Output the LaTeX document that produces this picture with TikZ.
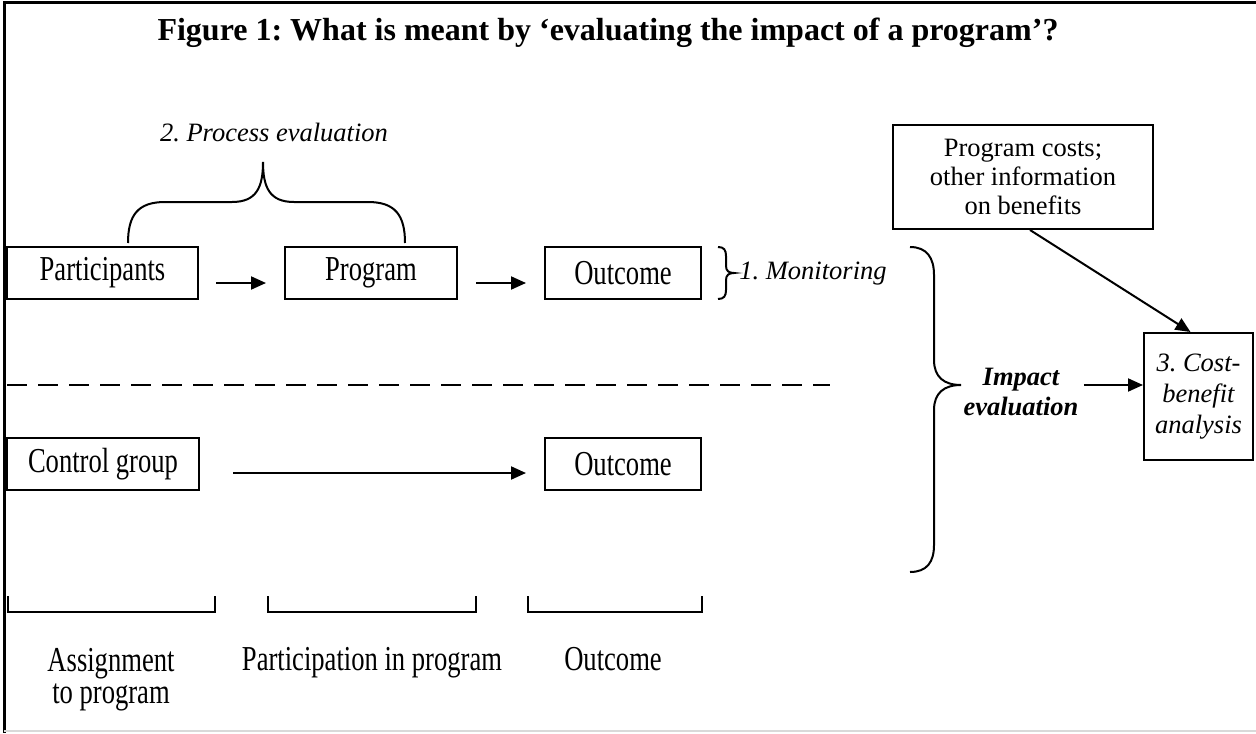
\documentclass[tikz,border=0pt]{standalone}
\usepackage{fontspec}
\setmainfont{Liberation Serif}
\newfontfamily\tallfont[FakeStretch=0.76]{Liberation Serif}
\usetikzlibrary{positioning, arrows.meta}
\frenchspacing

\begin{document}
\begin{tikzpicture}[
    x=0.5pt, y=-0.5pt,
    font=\fontsize{13.25}{15}\selectfont,
    box/.style={draw, line width=1pt, inner sep=0pt, align=center},
    tallbox/.style={box, minimum width=#1, minimum height=26pt, font=\tallfont\fontsize{17.5}{16}\selectfont},
    stagelabel/.style={font=\tallfont\fontsize{17.5}{16}\selectfont, align=center, inner sep=0pt},
    itlabel/.style={font=\itshape\fontsize{13.25}{15}\selectfont},
    arrow/.style={-{Triangle[length=7.5pt, width=6.5pt]}, line width=1pt},
    bracket/.style={line width=1pt}
]
    \useasboundingbox (0,0) rectangle (1256,733);
    % frame
    \draw[line width=1.5pt] (1256,3) -- (4,3) -- (4,733);
    \draw[gray!30, line width=1pt] (4,731) -- (1256,731);

    \node[font=\fontsize{16}{19}\selectfont\bfseries, anchor=base] (title) at (608,41) {Figure 1: What is meant by ‘evaluating the impact of a program’?};

    % treatment row
    \node[tallbox=95.5pt] (part) at (102.5,273) {Participants};
    \node[tallbox=86pt] (prog) at (371,273) {Program};
    \node[tallbox=78pt] (out) at (623,273) {Outcome};

    % control row
    \node[tallbox=96pt] (ctrl) at (103,464) {Control group};
    \node[tallbox=78pt] (outc) at (623,464) {Outcome};

    \node[box, minimum width=130pt, minimum height=52pt, font=\fontsize{13.25}{14.5}\selectfont] (costs) at (1023,177) {Program costs;\\other information\\on benefits};
    \node[box, minimum width=54.5pt, minimum height=63.5pt, font=\itshape\fontsize{13.25}{15.5}\selectfont] (cba) at (1198.5,396.5) {3. Cost-\\benefit\\analysis};

    \node[itlabel, anchor=base] (proc) at (274,141) {2. Process evaluation};
    \node[itlabel, anchor=base west, inner sep=0pt] (mon) at (739,279) {1. Monitoring};
    \node[font=\bfseries\itshape\fontsize{13.25}{15}\selectfont, align=center, inner sep=0pt] (imp) at (1021,392) {Impact\\evaluation};

    \draw[arrow, shorten <=8.5pt, shorten >=9pt] ([yshift=-5pt]part.east) -- ([yshift=-5pt]prog.west);
    \draw[arrow, shorten <=9pt, shorten >=9pt] ([yshift=-5pt]prog.east) -- ([yshift=-5pt]out.west);
    \draw[arrow, shorten <=16.5pt, shorten >=9pt] ([yshift=-4.5pt]ctrl.east) -- ([yshift=-4.5pt]outc.west);

    \coordinate (imptip) at (961,385);
    \draw[arrow, shorten <=2.5pt] (imp.east |- imptip) -- (cba.west |- imptip);
    \draw[arrow] ([xshift=3.5pt]costs.south) -- ([xshift=-4pt]cba.north);

    \draw[line width=1pt, dash pattern=on 10pt off 5.5pt] (7,385) -- (830,385);

    % braces
    \draw[line width=1pt] (128,243) .. controls (128,215) and (138,202) .. (165,202) -- (232,202)
        .. controls (256,202) and (263,188) .. (263,162)
        .. controls (263,188) and (270,202) .. (294,202) -- (368,202)
        .. controls (395,202) and (405,215) .. (405,243);
    \draw[line width=1pt] (718,247) .. controls (724,247) and (726,250) .. (726,256) -- (726,266)
        .. controls (726,271) and (729,273) .. (734,273)
        .. controls (729,273) and (726,275) .. (726,280) -- (726,290)
        .. controls (726,296) and (724,299) .. (718,299);
    \draw[line width=1pt] (910,247) .. controls (927,247) and (934,258) .. (934,275) -- (934,360)
        .. controls (934,377) and (944,385) .. (961,385)
        .. controls (944,385) and (934,393) .. (934,410) -- (934,545)
        .. controls (934,562) and (927,572) .. (910,572);

    % stages
    \foreach \a/\b in {8/215, 268/476, 528/702}
        \draw[bracket] (\a,596) -- (\a,612) -- (\b,612) -- (\b,596);
    \node[stagelabel, anchor=north] (assign) at (111,648) {Assignment\\to program};
    \node[stagelabel, anchor=base] (partic) at (372,670) {Participation in program};
    \node[stagelabel, anchor=base] (outl) at (613,670) {Outcome};
\end{tikzpicture}
\end{document}
